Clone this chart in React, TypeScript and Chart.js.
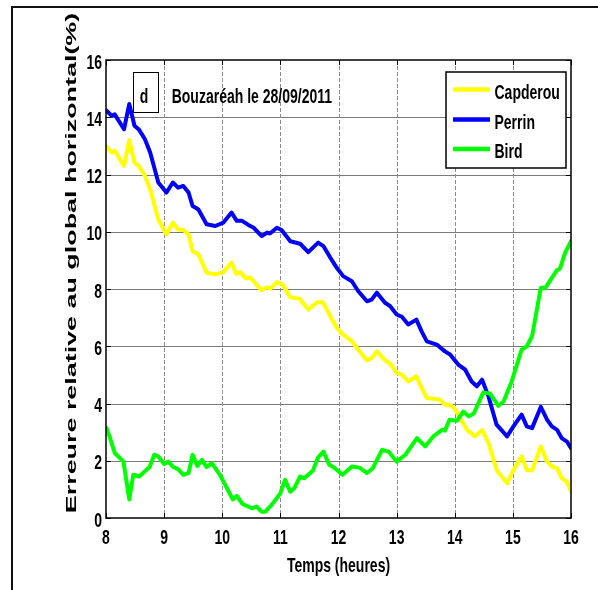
import React, { useEffect, useRef } from 'react';
import { Chart, registerables } from 'chart.js';

Chart.register(...registerables);

// ---------- data ----------
const seriesNames = ['Capderou', 'Perrin', 'Bird'];
const seriesColors = ['#FFFF00', '#0000FF', '#00FF00'];

const capderouHours = [8.01, 8.10, 8.15, 8.31, 8.40, 8.49, 8.57, 8.67, 8.76, 8.90, 9.04, 9.15, 9.24, 9.33, 9.42, 9.49, 9.59, 9.73, 9.88, 10.02, 10.16, 10.24, 10.31, 10.41, 10.48, 10.56, 10.67, 10.77, 10.83, 10.94, 11.04, 11.17, 11.33, 11.48, 11.63, 11.73, 11.86, 11.97, 12.08, 12.23, 12.34, 12.49, 12.57, 12.66, 12.80, 12.89, 13.00, 13.09, 13.20, 13.34, 13.43, 13.52, 13.66, 13.75, 13.83, 13.92, 14.01, 14.09, 14.21, 14.35, 14.47, 14.58, 14.72, 14.90, 15.01, 15.15, 15.24, 15.33, 15.48, 15.59, 15.67, 15.76, 15.84, 15.93, 16.00];
const capderouValues = [12.98, 12.77, 12.83, 12.30, 13.20, 12.42, 12.28, 11.95, 11.48, 10.43, 9.91, 10.32, 10.08, 10.06, 9.91, 9.32, 9.21, 8.57, 8.51, 8.59, 8.92, 8.53, 8.59, 8.36, 8.41, 8.22, 7.96, 8.06, 8.01, 8.24, 8.16, 7.71, 7.66, 7.28, 7.54, 7.54, 7.05, 6.64, 6.41, 6.17, 5.88, 5.50, 5.59, 5.82, 5.51, 5.39, 5.07, 5.01, 4.77, 4.95, 4.54, 4.19, 4.16, 4.13, 3.96, 3.96, 3.78, 3.49, 3.08, 2.85, 3.08, 2.62, 1.68, 1.21, 1.68, 2.15, 1.68, 1.66, 2.50, 1.97, 1.80, 1.74, 1.39, 1.27, 0.92];

const perrinHours = [8.01, 8.10, 8.15, 8.31, 8.40, 8.49, 8.57, 8.67, 8.76, 8.90, 9.04, 9.15, 9.24, 9.33, 9.42, 9.49, 9.59, 9.73, 9.88, 10.02, 10.16, 10.25, 10.34, 10.45, 10.54, 10.68, 10.77, 10.82, 10.94, 11.02, 11.17, 11.34, 11.48, 11.65, 11.74, 11.86, 11.97, 12.08, 12.23, 12.34, 12.49, 12.57, 12.66, 12.80, 12.89, 13.00, 13.09, 13.20, 13.34, 13.43, 13.52, 13.69, 13.83, 13.92, 14.06, 14.18, 14.29, 14.38, 14.47, 14.58, 14.72, 14.90, 15.01, 15.15, 15.24, 15.33, 15.48, 15.59, 15.67, 15.76, 15.84, 15.93, 16.00];
const perrinValues = [14.23, 14.05, 14.10, 13.58, 14.46, 13.70, 13.56, 13.23, 12.77, 11.72, 11.37, 11.72, 11.54, 11.60, 11.37, 10.90, 10.78, 10.26, 10.20, 10.32, 10.67, 10.38, 10.38, 10.24, 10.14, 9.85, 9.97, 9.94, 10.14, 10.06, 9.67, 9.58, 9.29, 9.62, 9.50, 9.09, 8.74, 8.45, 8.27, 7.92, 7.57, 7.63, 7.87, 7.52, 7.40, 7.11, 7.03, 6.76, 6.93, 6.52, 6.17, 6.06, 5.82, 5.71, 5.36, 5.18, 4.77, 4.60, 4.83, 4.25, 3.26, 2.85, 3.20, 3.61, 3.20, 3.14, 3.88, 3.43, 3.20, 3.08, 2.79, 2.67, 2.44];

const birdHours = [8.01, 8.07, 8.15, 8.30, 8.40, 8.47, 8.57, 8.75, 8.83, 8.90, 9.00, 9.07, 9.16, 9.24, 9.33, 9.42, 9.49, 9.57, 9.65, 9.73, 9.82, 9.96, 10.05, 10.18, 10.25, 10.35, 10.51, 10.59, 10.68, 10.74, 10.85, 11.00, 11.08, 11.17, 11.24, 11.34, 11.41, 11.56, 11.65, 11.74, 11.84, 11.91, 12.07, 12.23, 12.36, 12.49, 12.59, 12.75, 12.86, 13.00, 13.15, 13.35, 13.49, 13.63, 13.78, 13.83, 13.91, 14.04, 14.15, 14.24, 14.33, 14.49, 14.61, 14.75, 14.84, 14.98, 15.15, 15.24, 15.33, 15.48, 15.56, 15.67, 15.76, 15.81, 15.90, 16.00];
const birdValues = [3.14, 2.79, 2.27, 1.97, 0.65, 1.51, 1.45, 1.78, 2.21, 2.15, 1.89, 1.97, 1.78, 1.71, 1.51, 1.57, 2.21, 1.82, 2.03, 1.78, 1.92, 1.51, 1.16, 0.65, 0.77, 0.49, 0.34, 0.40, 0.22, 0.22, 0.46, 0.86, 1.33, 0.92, 1.04, 1.45, 1.39, 1.66, 2.12, 2.32, 1.86, 1.78, 1.51, 1.80, 1.76, 1.57, 1.74, 2.38, 2.32, 1.97, 2.21, 2.79, 2.50, 2.85, 3.08, 3.05, 3.43, 3.40, 3.72, 3.55, 3.66, 4.39, 4.34, 3.92, 4.07, 4.77, 5.88, 6.00, 6.35, 8.04, 8.04, 8.39, 8.66, 8.71, 9.27, 9.67];

const xTickValues = [8, 9, 10, 11, 12, 13, 14, 15, 16];
const yTickValues = [0, 2, 4, 6, 8, 10, 12, 14, 16];

const xAxisTitle = 'Temps (heures)';
const yAxisTitle = 'Erreure relative au global horizontal(%)';
const panelLetter = 'd';
const panelCaption = 'Bouzaréah le 28/09/2011';

// ---------- drawing helpers ----------
const FONT = '"Liberation Sans", Arial, Helvetica, sans-serif';
const TEXT_SIZE = 14;
const STRETCH = 1.5;

function drawText(
  ctx: CanvasRenderingContext2D,
  s: string,
  x: number,
  y: number,
  align: CanvasTextAlign,
  sx: number,
  sy: number,
  rot = 0
) {
  ctx.save();
  ctx.translate(x, y);
  if (rot) ctx.rotate(rot);
  ctx.scale(sx, sy);
  ctx.font = `bold ${TEXT_SIZE}px ${FONT}`;
  ctx.fillStyle = '#000';
  ctx.textAlign = align;
  ctx.textBaseline = 'alphabetic';
  ctx.fillText(s, 0, 0);
  ctx.restore();
}

const decorPlugin = {
  id: 'matlabDecor',
  beforeDatasetsDraw(chart: any) {
    const ctx: CanvasRenderingContext2D = chart.ctx;
    const xs = chart.scales.x;
    const ys = chart.scales.y;
    const { left, right, top, bottom } = chart.chartArea;
    ctx.save();
    // horizontal grid (solid)
    ctx.strokeStyle = '#7a7a7a';
    ctx.lineWidth = 1;
    yTickValues.forEach((v) => {
      if (v === yTickValues[0] || v === yTickValues[yTickValues.length - 1]) return;
      const py = Math.round(ys.getPixelForValue(v)) + 0.5;
      ctx.beginPath();
      ctx.moveTo(left, py);
      ctx.lineTo(right, py);
      ctx.stroke();
    });
    // vertical grid (dashed)
    ctx.strokeStyle = '#8c8c8c';
    ctx.setLineDash([4, 2]);
    xTickValues.forEach((v) => {
      if (v === xTickValues[0] || v === xTickValues[xTickValues.length - 1]) return;
      const px = Math.round(xs.getPixelForValue(v)) + 0.5;
      ctx.beginPath();
      ctx.moveTo(px, top);
      ctx.lineTo(px, bottom);
      ctx.stroke();
    });
    ctx.restore();
  },
  afterDatasetsDraw(chart: any) {
    const ctx: CanvasRenderingContext2D = chart.ctx;
    const xs = chart.scales.x;
    const ys = chart.scales.y;
    const { left, right, top, bottom } = chart.chartArea;
    ctx.save();
    // axes box
    ctx.strokeStyle = '#000';
    ctx.lineWidth = 1.5;
    ctx.strokeRect(left, top, right - left, bottom - top);
    // inward ticks on all four sides
    ctx.lineWidth = 1;
    const tl = 5;
    xTickValues.forEach((v) => {
      const px = Math.round(xs.getPixelForValue(v)) + 0.5;
      ctx.beginPath();
      ctx.moveTo(px, bottom);
      ctx.lineTo(px, bottom - tl);
      ctx.moveTo(px, top);
      ctx.lineTo(px, top + tl);
      ctx.stroke();
    });
    yTickValues.forEach((v) => {
      const py = Math.round(ys.getPixelForValue(v)) + 0.5;
      ctx.beginPath();
      ctx.moveTo(left, py);
      ctx.lineTo(left + tl, py);
      ctx.moveTo(right, py);
      ctx.lineTo(right - tl, py);
      ctx.stroke();
    });
    ctx.restore();

    // tick labels
    xTickValues.forEach((v) => {
      drawText(ctx, String(v), xs.getPixelForValue(v), bottom + 26, 'center', 1, STRETCH);
    });
    yTickValues.forEach((v) => {
      drawText(ctx, String(v), left - 4, ys.getPixelForValue(v) + 8.5, 'right', 1, STRETCH);
    });

    // axis titles
    drawText(ctx, xAxisTitle, (left + right) / 2, bottom + 54, 'center', 1, STRETCH);
    drawText(ctx, yAxisTitle, 76, 263, 'center', 1.92, 1, -Math.PI / 2);

    // panel letter box + caption
    ctx.save();
    ctx.fillStyle = '#fff';
    ctx.fillRect(133.5, 72, 25, 41);
    ctx.strokeStyle = '#000';
    ctx.lineWidth = 1;
    ctx.strokeRect(133.5, 72.5, 25, 40);
    ctx.restore();
    drawText(ctx, panelLetter, 144, 103.3, 'center', 1, STRETCH);
    drawText(ctx, panelCaption, 171.7, 103.3, 'left', 1, STRETCH);

    // legend
    ctx.save();
    ctx.fillStyle = '#fff';
    ctx.fillRect(446, 72, 120, 96);
    ctx.strokeStyle = '#000';
    ctx.lineWidth = 1.5;
    ctx.strokeRect(446, 72, 120, 96);
    const lineYs = [89.5, 119.5, 149];
    seriesNames.forEach((name, i) => {
      ctx.strokeStyle = seriesColors[i];
      ctx.lineWidth = 4.5;
      ctx.beginPath();
      ctx.moveTo(453, lineYs[i]);
      ctx.lineTo(490, lineYs[i]);
      ctx.stroke();
    });
    ctx.restore();
    seriesNames.forEach((name, i) => {
      drawText(ctx, name, 494.5, lineYs[i] + 9, 'left', 1, STRETCH);
    });
  },
};

function toPoints(hours: number[], values: number[]) {
  return hours.map((h, i) => ({ x: h, y: values[i] }));
}

export default function App() {
  const ref = useRef<HTMLCanvasElement>(null);

  useEffect(() => {
    if (!ref.current) return;
    const hoursList = [capderouHours, perrinHours, birdHours];
    const valuesList = [capderouValues, perrinValues, birdValues];
    const chart = new Chart(ref.current, {
      type: 'line',
      data: {
        datasets: seriesNames.map((name, i) => ({
          label: name,
          data: toPoints(hoursList[i], valuesList[i]),
          borderColor: seriesColors[i],
          backgroundColor: seriesColors[i],
          borderWidth: 4,
          pointRadius: 0,
          tension: 0,
          fill: false,
          borderJoinStyle: 'round' as const,
          borderCapStyle: 'round' as const,
          order: seriesNames.length - 1 - i,
        })),
      },
      options: {
        responsive: false,
        maintainAspectRatio: false,
        animation: false,
        devicePixelRatio: 1,
        layout: { padding: { left: 106, right: 27, top: 60, bottom: 72 } },
        plugins: {
          legend: { display: false },
          tooltip: { enabled: false },
          title: { display: false },
        },
        scales: {
          x: {
            type: 'linear',
            min: xTickValues[0],
            max: xTickValues[xTickValues.length - 1],
            display: false,
          },
          y: {
            type: 'linear',
            min: yTickValues[0],
            max: yTickValues[yTickValues.length - 1],
            display: false,
          },
        },
      },
      plugins: [decorPlugin],
    });
    return () => chart.destroy();
  }, []);

  return (
    <div
      style={{
        position: 'absolute',
        left: 0,
        top: 0,
        width: 598,
        height: 590,
        overflow: 'hidden',
        background: '#fff',
      }}
    >
      <div
        style={{
          position: 'absolute',
          left: 11,
          top: 6,
          width: 700,
          height: 700,
          borderLeft: '2px solid #111',
          borderTop: '2px solid #111',
        }}
      />
      <canvas
        ref={ref}
        width={598}
        height={590}
        style={{ position: 'absolute', left: 0, top: 0, width: 598, height: 590 }}
      />
    </div>
  );
}
